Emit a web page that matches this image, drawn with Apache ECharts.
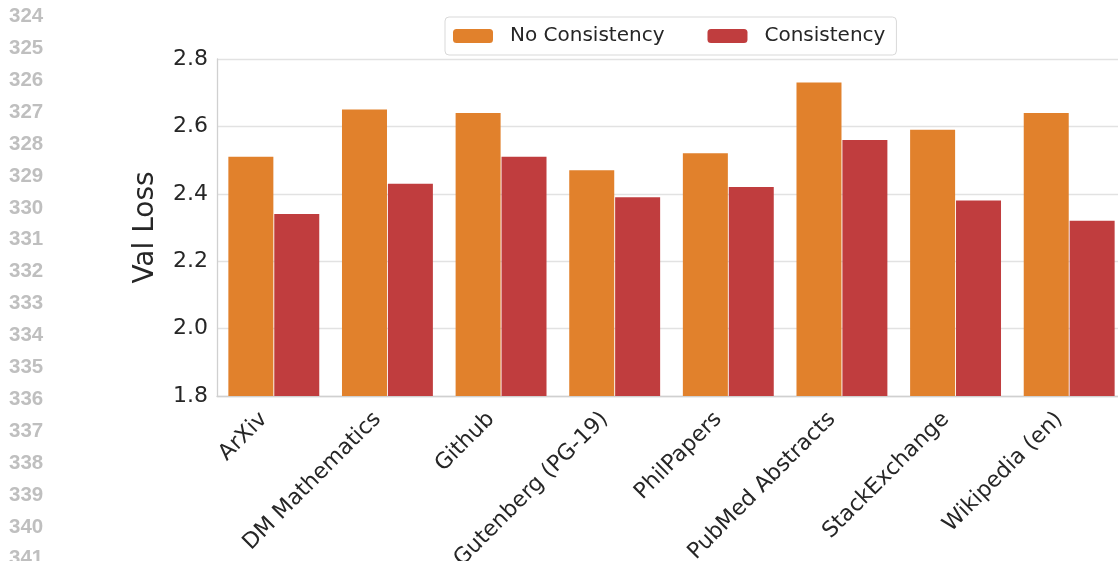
<!DOCTYPE html>
<html><head><meta charset="utf-8">
<script src="https://cdn.jsdelivr.net/npm/echarts@6/dist/echarts.min.js"></script>
<style>html,body{margin:0;padding:0;background:#fff;overflow:hidden}#c{width:1126px;height:561px}</style>
</head><body><div id="c"></div>
<script>
const categories = ['ArXiv','DM Mathematics','Github','Gutenberg (PG-19)','PhilPapers','PubMed Abstracts','StackExchange','Wikipedia (en)'];
const noConsistency = [2.51, 2.65, 2.64, 2.47, 2.52, 2.73, 2.59, 2.64];
const consistency = [2.34, 2.43, 2.51, 2.39, 2.42, 2.56, 2.38, 2.32];
const lineNumbers = ['324','325','326','327','328','329','330','331','332','333','334','335','336','337','338','339','340','341'];

const chart = echarts.init(document.getElementById('c'));
const font = 'DejaVu Sans';
const graphics = lineNumbers.map((t, i) => ({
  type: 'text', left: 9, top: 6 + i * 31.9,
  style: { text: t, fill: '#bfbfbf', font: 'bold 20.5px "Liberation Sans", Arial, sans-serif' }
}));
chart.setOption({
  animation: false,
  backgroundColor: '#fff',
  graphic: graphics,
  legend: {
    left: 445, top: 17,
    itemWidth: 40, itemHeight: 14, itemGap: 43,
    padding: [9, 11, 9, 8],
    borderColor: '#d9d9d9', borderWidth: 1, borderRadius: 4,
    backgroundColor: '#fff',
    textStyle: { fontFamily: font, fontSize: 20, color: '#262626', padding: [0, 0, 0, 12] },
    data: ['No Consistency', 'Consistency']
  },
  grid: { left: 217, top: 59, width: 909, height: 337, containLabel: false, outerBoundsMode: 'none' },
  xAxis: {
    type: 'category', data: categories,
    axisLine: { lineStyle: { color: '#d0d0d0', width: 1.3 } },
    axisTick: { show: false },
    axisLabel: { rotate: 45, fontFamily: font, fontSize: 22, color: '#262626', margin: 10, interval: 0,
      padding: [0, 14, 0, 0] }
  },
  yAxis: {
    type: 'value', min: 1.8, max: 2.8, interval: 0.2,
    name: 'Val Loss', nameLocation: 'middle', nameGap: 57,
    nameTextStyle: { fontFamily: font, fontSize: 28, color: '#262626' },
    axisLine: { show: true, lineStyle: { color: '#d0d0d0', width: 1.3 } },
    axisTick: { show: false },
    splitLine: { lineStyle: { color: '#e2e2e2', width: 1.3 } },
    axisLabel: { fontFamily: font, fontSize: 22, color: '#262626', margin: 9, formatter: v => v.toFixed(1) }
  },
  series: [
    { name: 'No Consistency', type: 'bar', data: noConsistency, barGap: '2%', barCategoryGap: '20%',
      itemStyle: { color: '#e1812c' } },
    { name: 'Consistency', type: 'bar', data: consistency,
      itemStyle: { color: '#c03d3e' } }
  ]
});
</script></body></html>
